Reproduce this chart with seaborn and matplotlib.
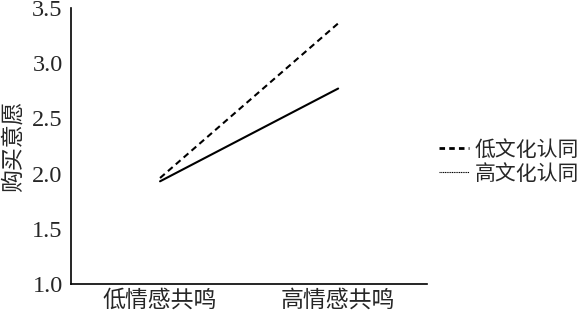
import matplotlib
matplotlib.use("Agg")
import matplotlib.pyplot as plt
from matplotlib.lines import Line2D
import seaborn as sns
import pandas as pd

categories = ["低情感共鸣", "高情感共鸣"]
low_identity = [1.96, 3.36]
high_identity = [1.93, 2.77]
series_names = ["低文化认同", "高文化认同"]
yticks = [1.0, 1.5, 2.0, 2.5, 3.0, 3.5]

sns.set_theme(style="white")
plt.rcParams['font.family'] = ['Liberation Serif', 'Noto Sans CJK SC']
plt.rcParams['axes.unicode_minus'] = False

df = pd.DataFrame({
    "情感共鸣": categories * 2,
    "x": [0, 1, 0, 1],
    "购买意愿": low_identity + high_identity,
    "文化认同": [series_names[0]] * 2 + [series_names[1]] * 2,
})

fig = plt.figure(figsize=(5.82, 3.17), dpi=100)
ax = fig.add_axes([0.122, 0.104, 0.612, 0.871])

sns.lineplot(data=df, x="x", y="购买意愿", hue="文化认同", style="文化认同",
             palette=["black", "black"],
             dashes={series_names[0]: (3, 2), series_names[1]: ""},
             linewidth=1.5, legend=False, ax=ax)

ax.set_xlim(-0.5, 1.5)
ax.set_ylim(1.0, 3.5)
ax.set_xticks([0, 1])
ax.set_xticklabels(categories, fontsize=16.5)
ax.set_yticks(yticks)
ax.set_yticklabels([f"{v:.1f}" for v in yticks], fontsize=17.5)
ax.tick_params(axis='both', length=0)
ax.tick_params(axis='y', pad=6)
ax.tick_params(axis='x', pad=4)
ax.set_xlabel("")
ax.set_ylabel("购买意愿", fontsize=16.5, labelpad=5)
for s in ["top", "right"]:
    ax.spines[s].set_visible(False)
for s in ["left", "bottom"]:
    ax.spines[s].set_color("black")
    ax.spines[s].set_linewidth(1.2)

handles = [
    Line2D([], [], color="black", linestyle=(0, (2, 1.5)), linewidth=2),
    Line2D([], [], color="black", linestyle=(0, (1, 0.6)), linewidth=0.8),
]
fig.legend(handles, series_names, loc="center left", bbox_to_anchor=(0.755, 0.487),
           frameon=False, fontsize=15, handlelength=1.4, handletextpad=0.3,
           labelspacing=0.2, borderpad=0, borderaxespad=0)

fig.savefig("out.png", dpi=100)
